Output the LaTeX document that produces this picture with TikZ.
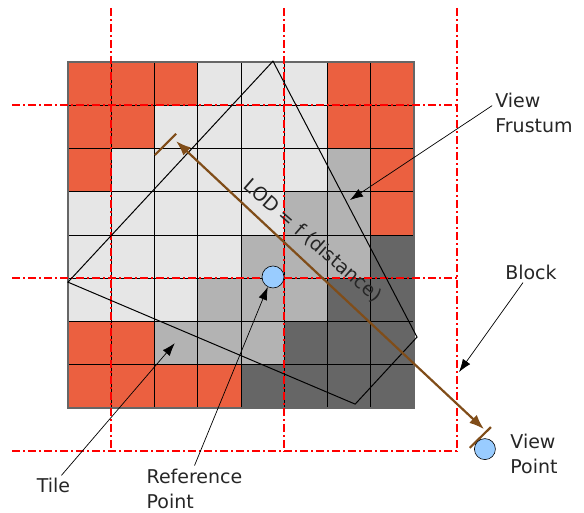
\documentclass[tikz,border=0pt]{standalone}
\usepackage{fontspec}
\setmainfont{DejaVu Sans}
\usetikzlibrary{arrows.meta}
\definecolor{tileorange}{RGB}{235,96,64}
\definecolor{tilelight}{RGB}{230,230,230}
\definecolor{tilemid}{RGB}{179,179,179}
\definecolor{tiledark}{RGB}{102,102,102}
\definecolor{lodbrown}{RGB}{128,77,25}
\definecolor{ptblue}{RGB}{153,204,255}

\begin{document}
\begin{tikzpicture}[x=43.25pt,y=43.25pt,yscale=-1,
    note/.style={font=\fontsize{19}{25.5}\selectfont, align=left, text=black!85, inner sep=3pt},
    pointer/.style={-{Latex[length=13pt,width=9pt]}, line width=0.7pt},
    blockline/.style={red, line width=1.6pt, dash pattern=on 8pt off 3pt on 2pt off 3pt},
    lod/.style={lodbrown, line width=2.2pt},
    dot/.style={circle, draw, line width=0.6pt, fill=ptblue, inner sep=0pt, minimum size=22pt}]
    \useasboundingbox (-1.572,-1.434) rectangle (11.931,10.405);
    \fill[tilelight] (0,0) rectangle (8,8);
    \foreach \c/\r in {0/0,1/0,2/0,6/0,7/0,0/1,1/1,6/1,7/1,0/2,7/2,7/3,0/6,1/6,0/7,1/7,2/7,3/7}
      \fill[tileorange] (\c,\r) rectangle ++(1,1);
    \foreach \c/\r in {6/2,5/3,6/3,4/4,5/4,6/4,3/5,4/5,5/5,2/6,3/6,4/6}
      \fill[tilemid] (\c,\r) rectangle ++(1,1);
    \foreach \c/\r in {7/4,6/5,7/5,5/6,6/6,7/6,4/7,5/7,6/7,7/7}
      \fill[tiledark] (\c,\r) rectangle ++(1,1);
    \draw[line width=0.8pt, step=1] (0,0) grid (8,8);
    \draw[tiledark, line width=1.5pt] (0,0) rectangle (8,8);
    \draw[blockline, step=4, shift={(1,1)}] (-2.29,-2.25) grid (8,8);
    \draw[line width=1pt, line join=miter] (4.74,-0.02) -- (8.07,6.36) -- (6.64,7.91) -- (0,5.09) -- cycle;
    \coordinate (lodnear) at (2.50,1.83);
    \coordinate (lodfar) at (9.62,8.49);
    \draw[lod, {Latex[length=15pt,width=11pt]}-{Latex[length=15pt,width=11pt]}] (lodnear) -- (lodfar);
    \draw[lod] (2.01,2.15) -- (2.50,1.66);
    \draw[lod] (9.29,8.92) -- (9.78,8.44);
    \node[note, rotate=-41] (lodtext) at (5.66,4.14) {LOD = f (distance)};
    \node[dot] (refpt) at (4.74,4.97) {};
    \node[dot, minimum size=21pt] (viewpt) at (9.64,8.95) {};
    \node[note] (lblfrustum) at (10.775,1.179) {View\\Frustum};
    \node[note] (lblblock) at (10.705,4.856) {Block};
    \node[note] (lbltile) at (-0.335,9.80) {Tile};
    \node[note] (lblref) at (2.925,9.87) {Reference\\Point};
    \node[note] (lblview) at (10.775,9.06) {View\\Point};
    \coordinate (frustumtip) at (6.52,3.19);
    \coordinate (blocktip) at (9.04,7.17);
    \coordinate (tiletip) at (2.47,6.50);
    \coordinate (reftip) at (4.62,5.20);
    \draw[pointer] (lblfrustum.170) -- (frustumtip);
    \draw[pointer] ([xshift=-8pt]lblblock.south) -- (blocktip);
    \draw[pointer] ([xshift=8pt]lbltile.north) -- (tiletip);
    \draw[pointer] (lblref.north) -- (reftip);
\end{tikzpicture}
\end{document}
